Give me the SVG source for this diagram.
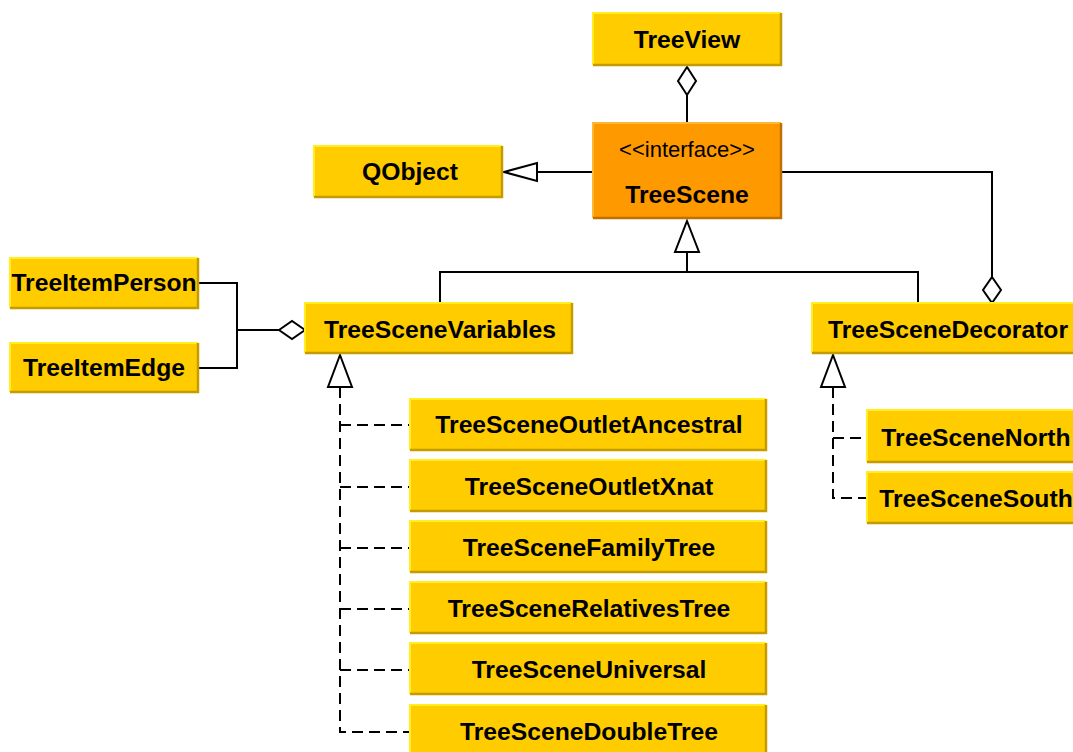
<svg xmlns="http://www.w3.org/2000/svg" width="1073" height="752" viewBox="0 0 1073 752">
  <style>
    .box { fill: #FFCC00; }
    .iface { fill: #FF9900; }
    .hi { stroke: #FFEE22; stroke-width: 2; fill: none; }
    .lo { stroke: #C49C00; stroke-width: 2.5; fill: none; }
    .hi2 { stroke: #FFB833; stroke-width: 2; fill: none; }
    .lo2 { stroke: #C07000; stroke-width: 2.5; fill: none; }
    .name { font-family: "Liberation Sans", Arial, sans-serif; font-weight: bold; font-size: 24.7px; fill: #000; text-anchor: middle; }
    .stereo { font-family: "Liberation Sans", Arial, sans-serif; font-size: 22px; fill: #000; text-anchor: middle; }
    .line { stroke: #000; stroke-width: 2; fill: none; }
    .dash { stroke: #000; stroke-width: 2; fill: none; stroke-dasharray: 11 6; }
    .head { stroke: #000; stroke-width: 2; fill: #fff; stroke-linejoin: miter; }
  </style>

  <!-- connectors -->
  <g id="connectors">
    <!-- TreeView aggregates TreeScene -->
    <line class="line" x1="687" y1="95" x2="687" y2="123"/>
    <polygon class="head" points="687,67 696,81 687,95 678,81"/>
    <!-- TreeScene extends QObject -->
    <line class="line" x1="537" y1="172" x2="593" y2="172"/>
    <polygon class="head" points="504,172 537,163 537,181"/>
    <!-- Variables / Decorator implement TreeScene -->
    <polyline class="line" points="440,303 440,272 918,272 918,303"/>
    <line class="line" x1="687" y1="252" x2="687" y2="272"/>
    <polygon class="head" points="687,221 699,252 675,252"/>
    <!-- Decorator aggregates TreeScene -->
    <polyline class="line" points="781,172 992,172 992,277"/>
    <polygon class="head" points="992,277 1001,290 992,303 983,290"/>
    <!-- items aggregated by Variables -->
    <polyline class="line" points="198,283 237,283 237,368 198,368"/>
    <line class="line" x1="237" y1="330" x2="279" y2="330"/>
    <polygon class="head" points="279,330 292,321 305,330 292,339"/>
    <!-- Variables subclasses -->
    <polygon class="head" points="340,355 352,387 328,387"/>
    <polyline class="dash" points="340,387 340,732 410,732"/>
    <line class="dash" x1="340" y1="425" x2="410" y2="425"/>
    <line class="dash" x1="340" y1="487" x2="410" y2="487"/>
    <line class="dash" x1="340" y1="548" x2="410" y2="548"/>
    <line class="dash" x1="340" y1="609" x2="410" y2="609"/>
    <line class="dash" x1="340" y1="670" x2="410" y2="670"/>
    <!-- Decorator subclasses -->
    <polygon class="head" points="833,355 845,387 821,387"/>
    <polyline class="dash" points="833,387 833,498 867,498"/>
    <line class="dash" x1="833" y1="438" x2="867" y2="438"/>
  </g>

  <g id="TreeView">
    <rect class="box" x="593" y="13" width="188" height="52"/>
    <polyline class="hi" points="593,65 593,13 781,13"/>
    <polyline class="lo" points="781,13 781,65 593,65"/>
    <text class="name" x="687" y="48">TreeView</text>
  </g>

  <g id="TreeScene">
    <rect class="iface" x="593" y="123" width="188" height="95"/>
    <polyline class="hi2" points="593,218 593,123 781,123"/>
    <polyline class="lo2" points="781,123 781,218 593,218"/>
    <text class="stereo" x="687" y="157">&lt;&lt;interface&gt;&gt;</text>
    <text class="name" x="687" y="203">TreeScene</text>
  </g>

  <g id="QObject">
    <rect class="box" x="314" y="146" width="188" height="51"/>
    <polyline class="hi" points="314,197 314,146 502,146"/>
    <polyline class="lo" points="502,146 502,197 314,197"/>
    <text class="name" x="410" y="180">QObject</text>
  </g>

  <g id="TreeItemPerson">
    <rect class="box" x="10" y="258" width="188" height="50"/>
    <polyline class="hi" points="10,308 10,258 198,258"/>
    <polyline class="lo" points="198,258 198,308 10,308"/>
    <text class="name" x="104" y="291">TreeItemPerson</text>
  </g>

  <g id="TreeItemEdge">
    <rect class="box" x="10" y="343" width="188" height="49"/>
    <polyline class="hi" points="10,392 10,343 198,343"/>
    <polyline class="lo" points="198,343 198,392 10,392"/>
    <text class="name" x="104" y="376">TreeItemEdge</text>
  </g>

  <g id="TreeSceneVariables">
    <rect class="box" x="305" y="303" width="267" height="50"/>
    <polyline class="hi" points="305,353 305,303 572,303"/>
    <polyline class="lo" points="572,303 572,353 305,353"/>
    <text class="name" x="440" y="338">TreeSceneVariables</text>
  </g>

  <g id="TreeSceneDecorator">
    <rect class="box" x="812" y="303" width="270" height="50"/>
    <polyline class="hi" points="812,353 812,303 1082,303"/>
    <polyline class="lo" points="1082,353 812,353"/>
    <text class="name" x="948" y="338">TreeSceneDecorator</text>
  </g>

  <g id="TreeSceneOutletAncestral">
    <rect class="box" x="410" y="399" width="356" height="51"/>
    <polyline class="hi" points="410,450 410,399 766,399"/>
    <polyline class="lo" points="766,399 766,450 410,450"/>
    <text class="name" x="589" y="433">TreeSceneOutletAncestral</text>
  </g>

  <g id="TreeSceneOutletXnat">
    <rect class="box" x="410" y="460" width="356" height="51"/>
    <polyline class="hi" points="410,511 410,460 766,460"/>
    <polyline class="lo" points="766,460 766,511 410,511"/>
    <text class="name" x="589" y="495">TreeSceneOutletXnat</text>
  </g>

  <g id="TreeSceneFamilyTree">
    <rect class="box" x="410" y="521" width="356" height="51"/>
    <polyline class="hi" points="410,572 410,521 766,521"/>
    <polyline class="lo" points="766,521 766,572 410,572"/>
    <text class="name" x="589" y="556">TreeSceneFamilyTree</text>
  </g>

  <g id="TreeSceneRelativesTree">
    <rect class="box" x="410" y="582" width="356" height="51"/>
    <polyline class="hi" points="410,633 410,582 766,582"/>
    <polyline class="lo" points="766,582 766,633 410,633"/>
    <text class="name" x="589" y="617">TreeSceneRelativesTree</text>
  </g>

  <g id="TreeSceneUniversal">
    <rect class="box" x="410" y="643" width="356" height="51"/>
    <polyline class="hi" points="410,694 410,643 766,643"/>
    <polyline class="lo" points="766,643 766,694 410,694"/>
    <text class="name" x="589" y="678">TreeSceneUniversal</text>
  </g>

  <g id="TreeSceneDoubleTree">
    <rect class="box" x="410" y="705" width="356" height="51"/>
    <polyline class="hi" points="410,756 410,705 766,705"/>
    <polyline class="lo" points="766,705 766,756"/>
    <text class="name" x="589" y="740">TreeSceneDoubleTree</text>
  </g>

  <g id="TreeSceneNorth">
    <rect class="box" x="867" y="410" width="220" height="52"/>
    <polyline class="hi" points="867,462 867,410 1087,410"/>
    <polyline class="lo" points="1087,462 867,462"/>
    <text class="name" x="976" y="446">TreeSceneNorth</text>
  </g>

  <g id="TreeSceneSouth">
    <rect class="box" x="867" y="472" width="220" height="51"/>
    <polyline class="hi" points="867,523 867,472 1087,472"/>
    <polyline class="lo" points="1087,523 867,523"/>
    <text class="name" x="976" y="507">TreeSceneSouth</text>
  </g>
</svg>
